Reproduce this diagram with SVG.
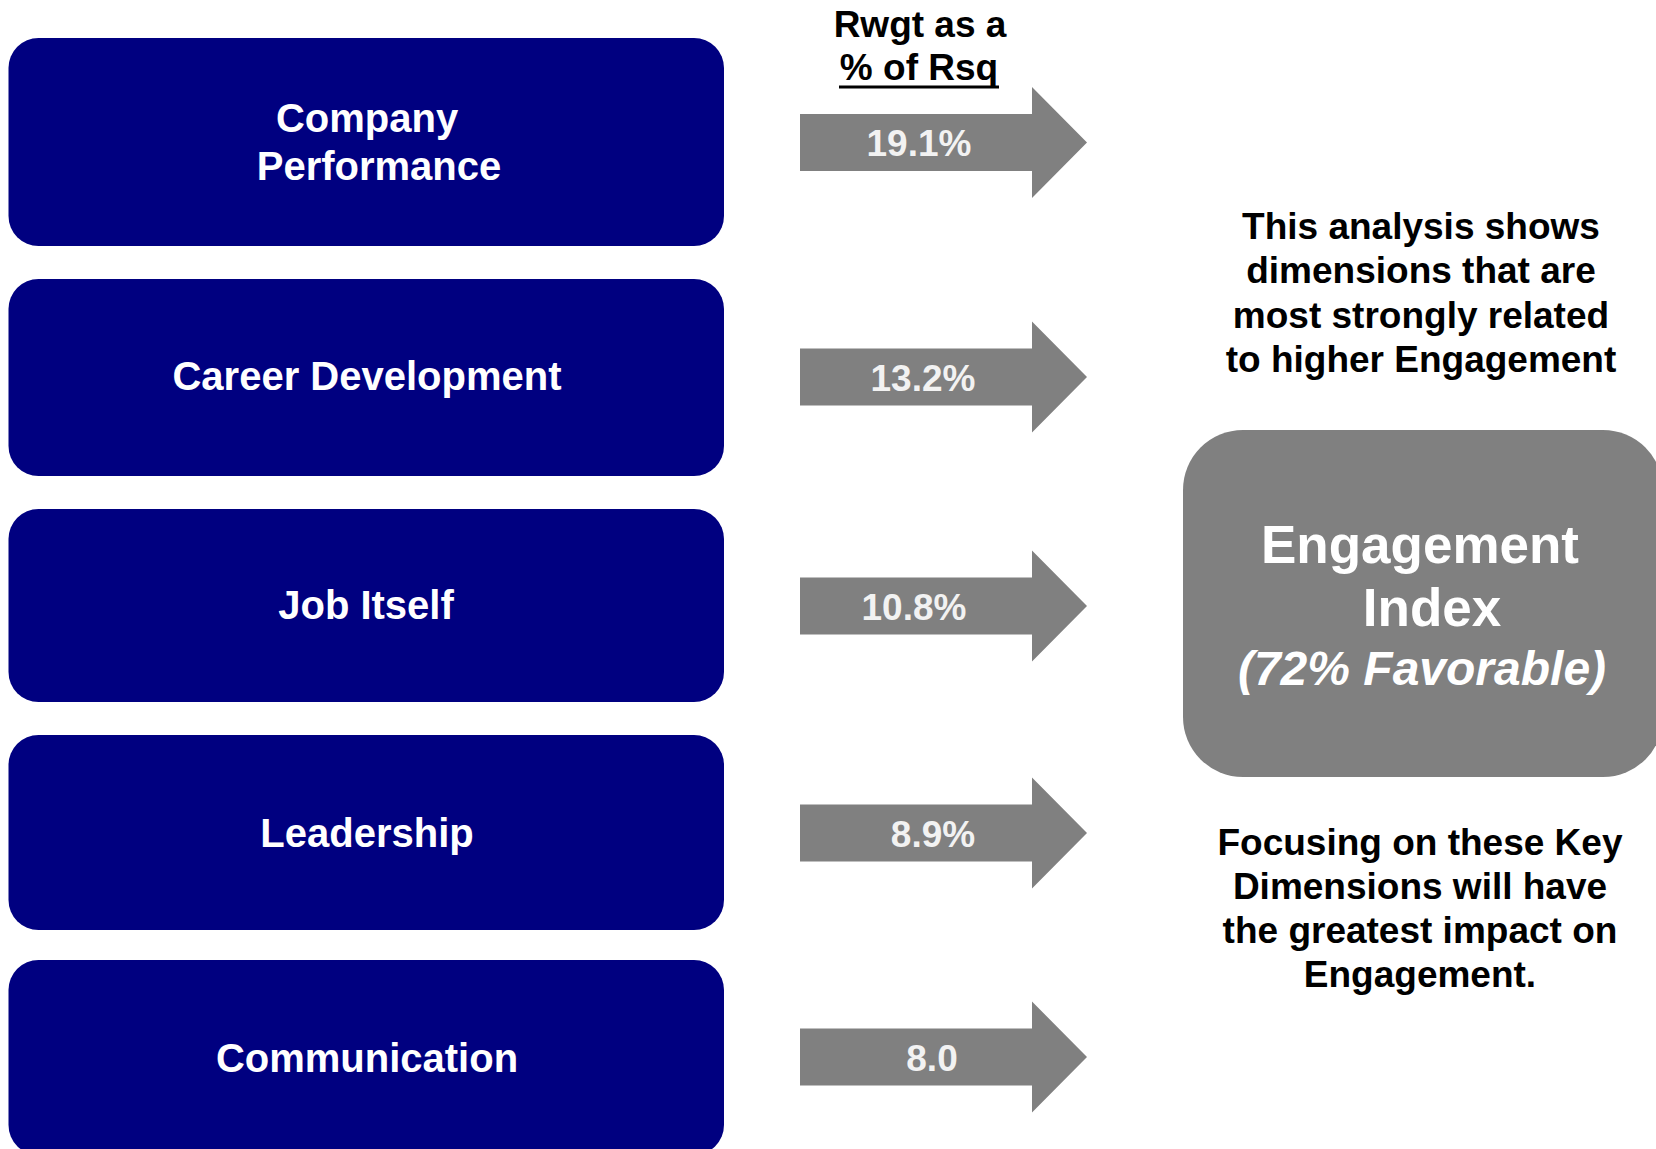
<svg xmlns="http://www.w3.org/2000/svg" width="1656" height="1149" viewBox="0 0 1656 1149">
  <style>
    .dim { fill: #000080; }
    .dim-label { fill: #ffffff; font-family: "Liberation Sans", Arial, sans-serif; font-weight: bold; font-size: 40px; text-anchor: middle; }
    .arrow { fill: #808080; }
    .pct { fill: #f2f2f2; font-family: "Liberation Sans", Arial, sans-serif; font-weight: bold; font-size: 37px; text-anchor: middle; }
    .note { fill: #000000; font-family: "Liberation Sans", Arial, sans-serif; font-weight: bold; font-size: 37px; text-anchor: middle; }
    .hdr { fill: #000000; font-family: "Liberation Sans", Arial, sans-serif; font-weight: bold; font-size: 37px; text-anchor: middle; }
    .big { fill: #ffffff; font-family: "Liberation Sans", Arial, sans-serif; font-weight: bold; font-size: 53px; text-anchor: middle; }
    .big-sub { fill: #ffffff; font-family: "Liberation Sans", Arial, sans-serif; font-weight: bold; font-style: italic; font-size: 48px; text-anchor: middle; }
  </style>
  <defs>
    <!-- block arrow centred on y=0 -->
    <path id="blockArrow" d="M800,-28.5 H1032 V-55.5 L1087,0 L1032,55.5 V28.5 H800 Z"/>
  </defs>

  <rect width="1656" height="1149" fill="#ffffff"/>

  <!-- column header -->
  <g id="header">
    <text class="hdr" x="920" y="37">Rwgt as a</text>
    <text class="hdr" x="919" y="80">% of Rsq</text>
    <rect x="839" y="85.5" width="160" height="3" fill="#000000"/>
  </g>

  <!-- dimension blocks -->
  <g id="company-performance">
    <rect class="dim" x="8.5" y="38" width="715.5" height="208" rx="30" ry="30"/>
    <text class="dim-label" x="367" y="132">Company</text>
    <text class="dim-label" x="379" y="180">Performance</text>
  </g>
  <g id="career-development">
    <rect class="dim" x="8.5" y="279" width="715.5" height="197" rx="30" ry="30"/>
    <text class="dim-label" x="367" y="390">Career Development</text>
  </g>
  <g id="job-itself">
    <rect class="dim" x="8.5" y="509" width="715.5" height="193" rx="30" ry="30"/>
    <text class="dim-label" x="366" y="619">Job Itself</text>
  </g>
  <g id="leadership">
    <rect class="dim" x="8.5" y="735" width="715.5" height="195" rx="30" ry="30"/>
    <text class="dim-label" x="367" y="847">Leadership</text>
  </g>
  <g id="communication">
    <rect class="dim" x="8.5" y="960" width="715.5" height="195" rx="30" ry="30"/>
    <text class="dim-label" x="367" y="1072">Communication</text>
  </g>

  <!-- weight arrows -->
  <g id="connectors">
    <g id="arrow-company">
      <use href="#blockArrow" class="arrow" transform="translate(0,142.5)"/>
      <text class="pct" x="919" y="156">19.1%</text>
    </g>
    <g id="arrow-career">
      <use href="#blockArrow" class="arrow" transform="translate(0,377)"/>
      <text class="pct" x="923" y="390.5">13.2%</text>
    </g>
    <g id="arrow-job">
      <use href="#blockArrow" class="arrow" transform="translate(0,606)"/>
      <text class="pct" x="914" y="619.5">10.8%</text>
    </g>
    <g id="arrow-leadership">
      <use href="#blockArrow" class="arrow" transform="translate(0,833)"/>
      <text class="pct" x="933" y="846.5">8.9%</text>
    </g>
    <g id="arrow-communication">
      <use href="#blockArrow" class="arrow" transform="translate(0,1057)"/>
      <text class="pct" x="932" y="1070.5">8.0</text>
    </g>
  </g>

  <!-- explanatory note (top) -->
  <g id="note-top">
    <text class="note" x="1421" y="238.5">This analysis shows</text>
    <text class="note" x="1421" y="283">dimensions that are</text>
    <text class="note" x="1421" y="327.5">most strongly related</text>
    <text class="note" x="1421" y="372">to higher Engagement</text>
  </g>

  <!-- outcome block -->
  <g id="engagement-index">
    <rect class="arrow" x="1183" y="430" width="480" height="347" rx="60" ry="60"/>
    <text class="big" x="1420" y="563">Engagement</text>
    <text class="big" x="1432" y="626">Index</text>
    <text class="big-sub" x="1422" y="685">(72% Favorable)</text>
  </g>

  <!-- explanatory note (bottom) -->
  <g id="note-bottom">
    <text class="note" x="1420" y="854.5">Focusing on these Key</text>
    <text class="note" x="1420" y="898.5">Dimensions will have</text>
    <text class="note" x="1420" y="942.5">the greatest impact on</text>
    <text class="note" x="1420" y="986.5">Engagement.</text>
  </g>
</svg>
